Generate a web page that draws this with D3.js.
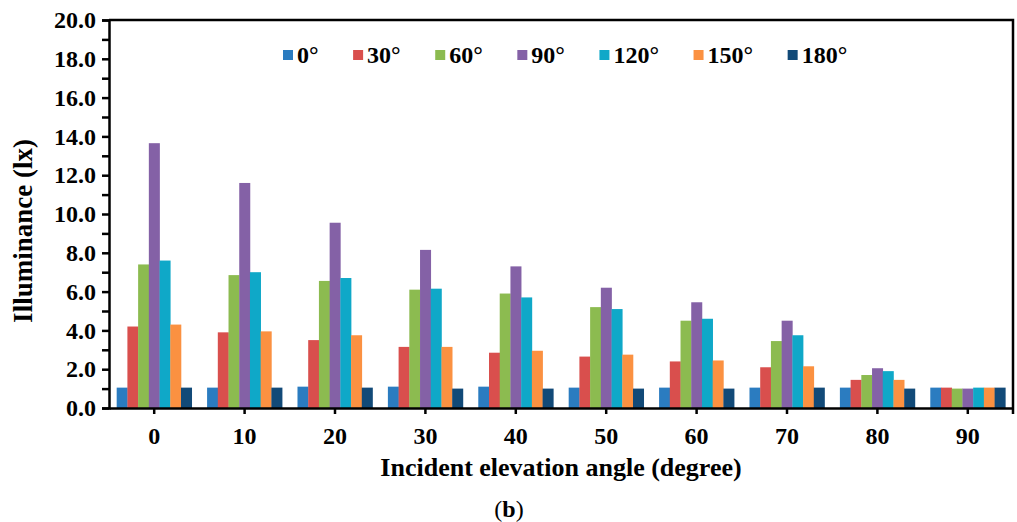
<!DOCTYPE html>
<html>
<head>
<meta charset="utf-8">
<script src="https://cdn.jsdelivr.net/npm/d3@7/dist/d3.min.js"></script>
<style>
  html, body { margin: 0; padding: 0; background: #fff; }
  svg { display: block; }
  text { font-family: "Liberation Serif", "Times New Roman", serif; }
</style>
</head>
<body>
<svg id="chart" width="1017" height="522"></svg>
<script>
// ---- data ----
const categories = ["0", "10", "20", "30", "40", "50", "60", "70", "80", "90"];
const seriesNames = ["0°", "30°", "60°", "90°", "120°", "150°", "180°"];
const s0   = [1.05, 1.05, 1.10, 1.10, 1.10, 1.05, 1.05, 1.05, 1.05, 1.05];
const s30  = [4.20, 3.90, 3.50, 3.15, 2.85, 2.65, 2.40, 2.10, 1.45, 1.05];
const s60  = [7.40, 6.85, 6.55, 6.10, 5.90, 5.20, 4.50, 3.45, 1.70, 1.00];
const s90  = [13.65, 11.60, 9.55, 8.15, 7.30, 6.20, 5.45, 4.50, 2.05, 1.00];
const s120 = [7.60, 7.00, 6.70, 6.15, 5.70, 5.10, 4.60, 3.75, 1.90, 1.05];
const s150 = [4.30, 3.95, 3.75, 3.15, 2.95, 2.75, 2.45, 2.15, 1.45, 1.05];
const s180 = [1.05, 1.05, 1.05, 1.00, 1.00, 1.00, 1.00, 1.05, 1.00, 1.05];
const seriesValues = [s0, s30, s60, s90, s120, s150, s180];
const colors = ["#2b7cc0", "#d94f4d", "#8cbb50", "#8461a6", "#0fa8c8", "#fb9141", "#124a78"];
const yTicks = [0, 2, 4, 6, 8, 10, 12, 14, 16, 18, 20];
const yMinorTicks = [1, 3, 5, 7, 9, 11, 13, 15, 17, 19];

// ---- layout ----
const svg = d3.select("#chart");
const L = 109, R = 1013, T = 20, B = 408;

const x = d3.scaleBand().domain(categories).range([L, R]).paddingInner(0.17).paddingOuter(0.085);
const xs = d3.scaleBand().domain(seriesNames).range([0, x.bandwidth()]).padding(0);
const y = d3.scaleLinear().domain([0, 20]).range([B, T]);

// bars
const groups = svg.append("g").selectAll("g")
  .data(categories)
  .join("g")
  .attr("transform", d => `translate(${x(d)},0)`);

groups.selectAll("rect")
  .data((d, i) => seriesNames.map((s, j) => ({ s, j, v: seriesValues[j][i] })))
  .join("rect")
  .attr("x", d => xs(d.s))
  .attr("width", xs.bandwidth() + 0.3)
  .attr("y", d => y(d.v))
  .attr("height", d => y(0) - y(d.v))
  .attr("fill", d => colors[d.j]);

// frame (top & right)
svg.append("path")
  .attr("d", `M${L},${T}H${R}V${B + 6}`)
  .attr("fill", "none").attr("stroke", "#000").attr("stroke-width", 2.5);

// y axis
svg.append("g").attr("transform", `translate(${L},0)`)
  .call(d3.axisLeft(y).tickValues(yTicks).tickFormat(d3.format(".1f")).tickSize(7).tickPadding(6));
svg.append("g").attr("transform", `translate(${L},0)`)
  .call(d3.axisLeft(y).tickValues(yMinorTicks).tickFormat("").tickSize(7))
  .select(".domain").remove();

// x axis
svg.append("g").attr("transform", `translate(0,${B})`)
  .call(d3.axisBottom(x).tickSize(6).tickSizeOuter(0).tickPadding(13));

svg.selectAll(".domain").attr("stroke-width", 2.5);
svg.selectAll(".tick line").attr("stroke-width", 2.5);
svg.selectAll(".tick text")
  .attr("font-family", "Liberation Serif, serif")
  .attr("font-weight", "bold")
  .attr("font-size", 24)
  .attr("fill", "#000");

// axis titles
svg.append("text")
  .attr("transform", `translate(32,${(T + B) / 2 + 17}) rotate(-90)`)
  .attr("text-anchor", "middle")
  .attr("font-weight", "bold").attr("font-size", 27)
  .text("Illuminance (lx)");

svg.append("text")
  .attr("x", (L + R) / 2).attr("y", 476)
  .attr("text-anchor", "middle")
  .attr("font-weight", "bold").attr("font-size", 26)
  .text("Incident elevation angle (degree)");

const sub = svg.append("text")
  .attr("x", 509).attr("y", 517)
  .attr("text-anchor", "middle")
  .attr("font-size", 24);
sub.append("tspan").text("(");
sub.append("tspan").attr("font-weight", "bold").text("b");
sub.append("tspan").text(")");

// legend
const legend = svg.append("g");
let lx = 283;
const ly = 55;
seriesNames.forEach((s, j) => {
  legend.append("rect").attr("x", lx).attr("y", ly - 5).attr("width", 10).attr("height", 10).attr("fill", colors[j]);
  const t = legend.append("text").attr("x", lx + 14).attr("y", ly + 8)
    .attr("font-weight", "bold").attr("font-size", 24).text(s);
  lx = lx + 14 + t.node().getComputedTextLength() + 34.5;
});
</script>
</body>
</html>
